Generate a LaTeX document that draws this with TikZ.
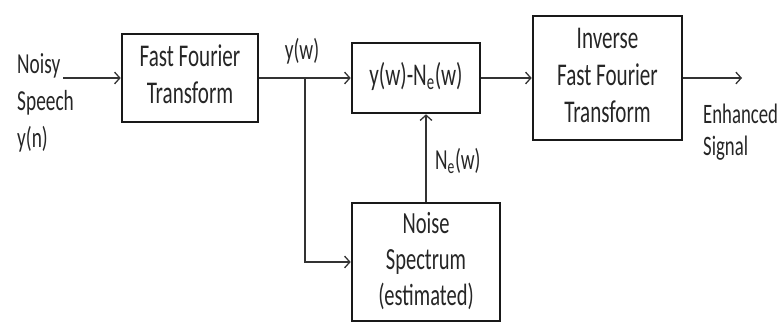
\documentclass[tikz,border=0pt]{standalone}
\usepackage{graphicx}
\usepackage{fontspec}
\setmainfont{Carlito}
\usetikzlibrary{arrows.meta}
\def\tall[#1]#2{\scalebox{1}[1.5]{\begin{tabular}{@{}#1@{}}#2\end{tabular}}}
\tikzset{
	block/.style={draw, black!90, line width=2.2pt, text=black!85, inner sep=0pt, font=\fontsize{18}{21}\selectfont},
	flow/.style={black!80, line width=1.1pt, -{Straight Barb[length=4.5pt, width=10pt, line width=1.1pt]}},
	lbl/.style={inner sep=0pt, text=black!85, font=\fontsize{16.5}{21}\selectfont}
}
\begin{document}
\begin{tikzpicture}[x=0.3mm, y=0.3mm]
				\useasboundingbox (0,0) rectangle (782,323);
				
				\node[block, minimum width=40.8mm, minimum height=26.4mm] (fft) at (190,245) {\tall[c]{Fast Fourier\\Transform}};
				\node[block, minimum width=38.4mm, minimum height=21mm] (sub) at (416,245) {\tall[c]{y(w)-N\textsubscript{e}(w)}};
				\node[block, minimum width=44.7mm, minimum height=37.2mm] (ifft) at (607.5,245) {\tall[c]{Inverse\\Fast Fourier\\Transform}};
				\node[block, minimum width=44.4mm, minimum height=35.4mm, font=\fontsize{17.5}{20.5}\selectfont] (noise) at (426,61) {\tall[c]{Noise\\Spectrum\\(estimated)}};
				
				\node[lbl, anchor=west] (input) at (17,220) {\tall[l]{Noisy\\Speech\\y(n)}};
				\node[lbl, anchor=west, font=\fontsize{16}{18}\selectfont] (output) at (703,190) {\tall[l]{Enhanced\\Signal}};
				
				\coordinate (src) at (63,245);
				\coordinate (split) at (305,245);
				\coordinate (sink) at (742,245);
				
				\draw[flow] (src) -- (fft);
				\draw[black!80, line width=1.1pt] (fft) -- (split);
				\draw[flow] (split) -- (sub);
				\draw[flow] (split) |- (noise);
				\draw[flow] (noise.north) -- (noise.north |- sub.south);
				\draw[flow] (sub) -- (ifft);
				\draw[flow] (ifft) -- (sink);
				
				\node[lbl] (ylabel) at (302,271) {\tall[c]{y(w)}};
				\node[lbl, anchor=west] (nlabel) at (435,161) {\tall[c]{N\textsubscript{e}(w)}};
			\end{tikzpicture}
\end{document}
